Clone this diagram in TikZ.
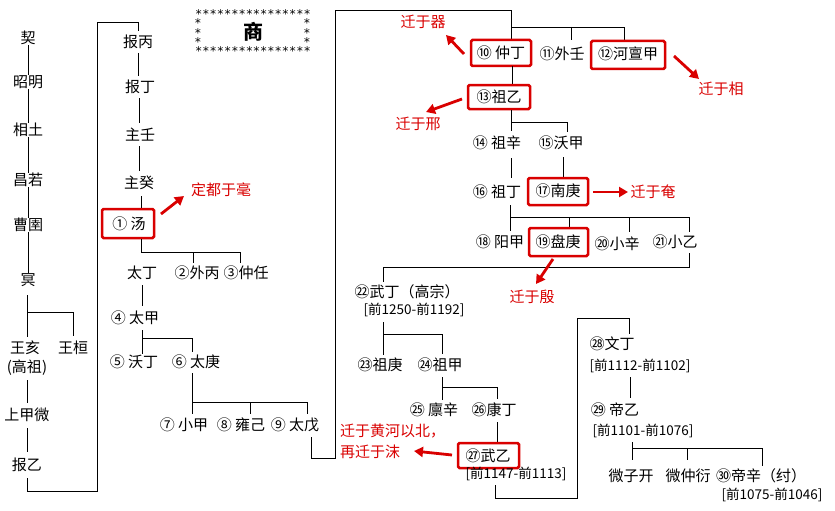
\documentclass[tikz,border=0pt]{standalone}
\usepackage{fontspec}
\setmainfont{Noto Sans CJK SC}
\newfontfamily\astf{DejaVu Sans Mono}
\usetikzlibrary{arrows.meta}
\begin{document}
\begin{tikzpicture}[x=1pt,y=-1pt,
  t/.style={inner sep=0pt,font=\fontsize{15}{15}\selectfont},
  d/.style={inner sep=0pt,font=\fontsize{13.5}{14}\selectfont},
  rt/.style={inner sep=0pt,text=red!85!black,font=\fontsize{15}{15}\selectfont},
  as/.style={inner sep=0pt,font=\astf\fontsize{12}{12}\selectfont},
  ln/.style={line width=0.8pt},
  rb/.style={draw=red!85!black,line width=2.5pt,rounded corners=1.5pt},
  ra/.style={red!85!black,line width=2.8pt,-{Triangle[length=9pt,width=10pt]}}]
\useasboundingbox (0,0) rectangle (835,511);
% title
\node[as] (tt) at (253,14) {****************};
\node[as] (tb) at (253,51) {****************};
\node[as,align=center,font=\astf\fontsize{12}{9.5}\selectfont] (tl) at (198,33) {*\\*\\*};
\node[as,align=center,font=\astf\fontsize{12}{9.5}\selectfont] (tr) at (307,33) {*\\*\\*};
\node[inner sep=0pt,font=\bfseries\fontsize{20}{20}\selectfont] (title) at (253,32) {商};
% left column
\node[t] (q) at (28,38) {契};
\node[t] (zm) at (28,82) {昭明};
\node[t] (xt) at (28,130) {相土};
\node[t] (cr) at (28,180) {昌若};
\node[t] (cy) at (28,225) {曹圉};
\node[t] (m) at (28,280) {冥};
\node[t] (wh) at (25,348) {王亥};
\node[t] (gz) at (27,368) {(高祖)};
\node[t] (whn) at (73,348) {王桓};
\node[t] (sjw) at (27,415) {上甲微};
\node[t] (by) at (27,465) {报乙};
\draw[ln] (q.south) -- (zm.north) (zm.south)--(xt.north) (xt.south)--(cr.north) (cr.south)--(cy.north) (cy.south)--(m.north)
 (27,295)--(27,337) (27,380)--(27,403) (27,428)--(27,452);
\draw[ln] (28,312)-|(73,336);
\draw[ln] (27,478)--(27,491)--(97,491)--(97,22)--(138,22)--(138,31);
% column 2
\node[t] (bb) at (138,42) {报丙};
\node[t] (bd) at (140,87) {报丁};
\node[t] (zr) at (140,135) {主壬};
\node[t] (zg) at (139,183) {主癸};
\node[t] (t1) at (129,224) {① 汤};
\draw[rb] (102,209) rectangle (154,238);
\draw[ln] (138,53)--(138,76) (139,98)--(139,123) (139,146)--(139,171) (141,196)--(141,208);
\node[rt] (a1) at (221,190) {定都于毫};
\draw[ra] (161,214)--(184,196);
\draw[ln] (141,239)--(141,252)--(240,252)--(240,263) (193,252)--(193,263);
\node[t] (td) at (142,273) {太丁};
\node[t] (wb) at (197,273) {②外丙};
\node[t] (zr2) at (246,273) {③仲任};
\draw[ln] (142,285)--(142,306);
\node[t] (tj) at (135,318) {④ 太甲};
\draw[ln] (142,330)--(142,354) (142,338)--(192,338)--(192,352);
\node[t] (wd) at (134,362) {⑤ 沃丁};
\node[t] (tg) at (196,362) {⑥ 太庚};
\draw[ln] (192,373)--(192,414) (192,402)--(307,402)--(307,414) (250,402)--(250,414);
\node[t] (xj) at (184,425) {⑦ 小甲};
\node[t] (yj) at (241,425) {⑧ 雍己};
\node[t] (tw) at (295,425) {⑨ 太戊};
\draw[ln] (311,437)--(311,458)--(335,458)--(335,10)--(511,10)--(511,40);
% upper right
\draw[ln] (512,27)--(624,27)--(624,40) (571,27)--(571,40);
\node[t] (zd) at (501,53) {⑩ 仲丁};
\draw[rb] (471,40) rectangle (531,66);
\node[t] (wr) at (562,54) {⑪外壬};
\node[t] (hdj) at (628,54) {⑫河亶甲};
\draw[rb] (591,41) rectangle (665,69);
\node[rt] (a2) at (423,22) {迁于器};
\draw[ra] (464,54)--(446,35);
\node[rt] (a3) at (721,89) {迁于相};
\draw[ra] (674,56)--(699,79);
\draw[ln] (512,66)--(512,85);
\node[t] (zy) at (499,97) {⑬祖乙};
\draw[rb] (468,85) rectangle (530,109);
\node[rt] (a4) at (418,124) {迁于邢};
\draw[ra] (462,99)--(426,112);
\draw[ln] (511,110)--(511,131) (511,122)--(567,122)--(567,132);
\node[t] (zx) at (497,143) {⑭ 祖辛};
\node[t] (wj) at (561,143) {⑮沃甲};
\draw[ln] (511,158)--(511,178) (563,157)--(563,178);
\node[t] (zd2) at (497,192) {⑯ 祖丁};
\node[t] (ng) at (558,191) {⑰南庚};
\draw[rb] (528,178) rectangle (588,205);
\draw[ra] (593,192)--(628,192);
\node[rt] (a5) at (653,192) {迁于奄};
\draw[ln] (510,205)--(510,231) (510,217)--(689,217)--(689,232) (569,217)--(569,228) (629,217)--(629,232);
\node[t] (yj2) at (500,242) {⑱ 阳甲};
\node[t] (pg) at (558,242) {⑲盘庚};
\draw[rb] (529,228) rectangle (588,256);
\node[t] (xx) at (617,244) {⑳小辛};
\node[t] (xy) at (675,242) {㉑小乙};
\draw[ln] (689,253)--(689,267)--(383,267)--(383,282);
\draw[ra] (553,259)--(536,284);
\node[rt] (a6) at (532,297) {迁于殷};
\node[t] (wd2) at (407,292) {㉒武丁（高宗）};
\node[d] (wdd) at (414,310) {[前1250-前1192]};
\draw[ln] (383,322)--(383,355) (383,334)--(442,334)--(442,354);
\node[t] (zg2) at (380,365) {㉓祖庚};
\node[t] (zj) at (440,365) {㉔祖甲};
\draw[ln] (442,377)--(442,400) (442,387)--(497,387)--(497,399);
\node[t] (lx) at (434,410) {㉕ 廪辛};
\node[t] (kd) at (494,410) {㉖康丁};
\draw[ln] (497,422)--(497,443);
\node[t] (wy) at (488,456) {㉗武乙};
\draw[rb] (458,443) rectangle (519,468);
\node[d] (wyd) at (516,474) {[前1147-前1113]};
\node[rt,anchor=west] (a7) at (340,431) {迁于黄河以北，};
\node[rt,anchor=west] (a8) at (340,452) {再迁于沫};
\draw[ra] (452,455)--(414,451);
\draw[ln] (495,485)--(495,498)--(577,498)--(577,318)--(629,318)--(629,334);
\node[t] (wd3) at (612,344) {㉘文丁};
\node[d] (wd3d) at (640,366) {[前1112-前1102]};
\draw[ln] (630,377)--(630,398);
\node[t] (dy) at (615,410) {㉙ 帝乙};
\node[d] (dyd) at (643,431) {[前1101-前1076]};
\draw[ln] (632,442)--(632,460) (632,448)--(762,448)--(762,466) (687,448)--(687,460);
\node[t] (wzk) at (631,476) {微子开};
\node[t] (wzy) at (688,476) {微仲衍};
\node[t] (dx) at (761,476) {㉚帝辛（纣）};
\node[d] (dxd) at (772,495) {[前1075-前1046]};
\end{tikzpicture}
\end{document}
